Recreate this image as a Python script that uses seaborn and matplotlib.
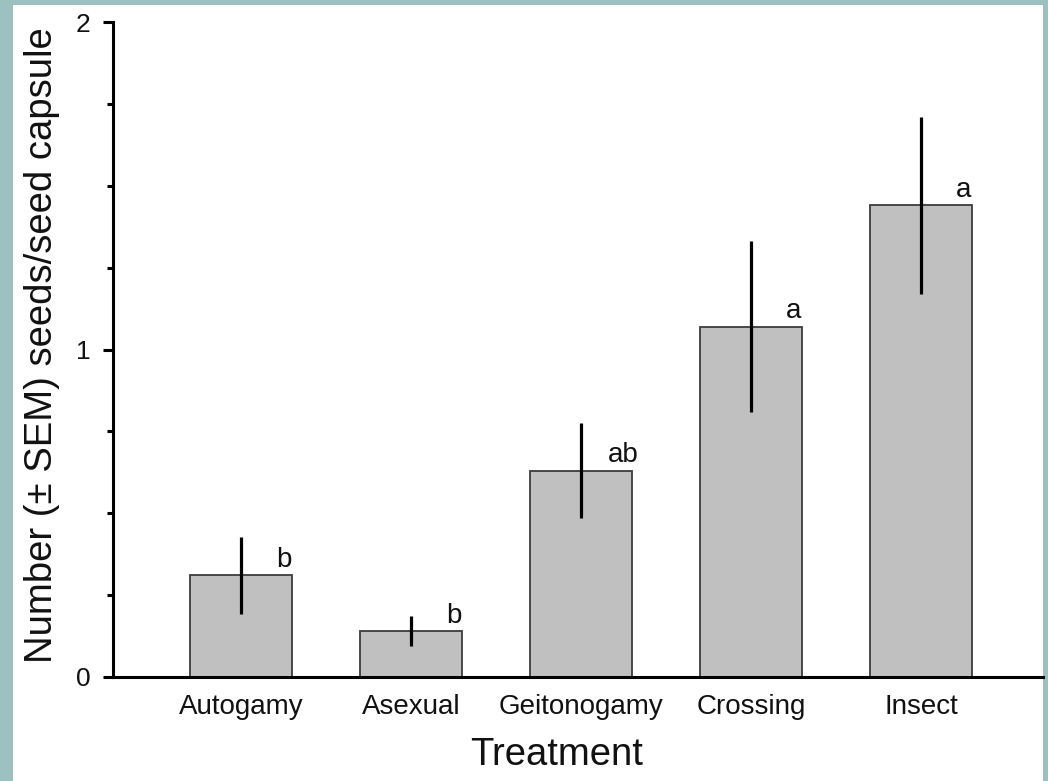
import numpy as np
import pandas as pd
import matplotlib
matplotlib.use("Agg")
import matplotlib.pyplot as plt
from matplotlib.patches import Rectangle
from matplotlib.ticker import MultipleLocator
import seaborn as sns

# Seed set per pollination treatment (mean ± SEM) with significance groups
treatments = ["Autogamy", "Asexual", "Geitonogamy", "Crossing", "Insect"]
mean_seeds = [0.31, 0.14, 0.63, 1.07, 1.44]
sem_seeds = [0.117, 0.046, 0.145, 0.262, 0.270]
group_letters = ["b", "b", "ab", "a", "a"]
y_ticks = [0, 1, 2]

sns.set_theme(style="white")
plt.rcParams["font.family"] = ["Liberation Sans", "DejaVu Sans"]
plt.rcParams["text.color"] = "#111111"
plt.rcParams["axes.labelcolor"] = "#111111"
plt.rcParams["xtick.color"] = "black"
plt.rcParams["ytick.color"] = "black"
plt.rcParams["xtick.labelcolor"] = "#111111"
plt.rcParams["ytick.labelcolor"] = "#111111"

W, H = 1048, 781
fig = plt.figure(figsize=(W / 100, H / 100), dpi=100, facecolor="#9dc1c0")
# white panel inside the coloured frame
fig.patches.append(Rectangle((13 / W, 0), (1043 - 13) / W, (H - 5) / H,
                             transform=fig.transFigure, facecolor="white",
                             edgecolor="none", zorder=-10))

ax = fig.add_axes([113 / W, 104 / H, 930 / W, 655 / H])
ax.set_zorder(1)
ax.set_facecolor("none")

df = pd.DataFrame({"Treatment": treatments, "Seeds": mean_seeds})
sns.barplot(data=df, x="Treatment", y="Seeds", order=treatments,
            color="#c0c0c0", saturation=1, width=0.6,
            edgecolor="#3c3c3c", linewidth=1.3, errorbar=None, ax=ax)

pos = np.arange(len(treatments))
ax.errorbar(pos, mean_seeds, yerr=sem_seeds, fmt="none", ecolor="black",
            elinewidth=2.3, capsize=0, zorder=3)

for x, m, lab in zip(pos, mean_seeds, group_letters):
    ax.annotate(lab, (x + 0.25, m), xytext=(0, 6), textcoords="offset points",
                ha="center", va="baseline", fontsize=20)

ax.set_xlim(-0.753, 4.718)
ax.set_ylim(0, 2)
ax.set_yticks(y_ticks, labels=[str(t) for t in y_ticks])
ax.yaxis.set_minor_locator(MultipleLocator(0.25))

for side in ("top", "right"):
    ax.spines[side].set_visible(False)
for side in ("left", "bottom"):
    ax.spines[side].set_color("black")
    ax.spines[side].set_linewidth(2.2)

ax.tick_params(axis="y", which="major", left=True, direction="out",
               length=7, width=2.2, labelsize=19, pad=9)
ax.tick_params(axis="y", which="minor", left=True, direction="out",
               length=4.5, width=2.2)
ax.tick_params(axis="x", which="both", length=0, labelsize=20, pad=12)

ax.set_xlabel("Treatment", fontsize=27.5)
ax.set_ylabel("Number (\u00b1 SEM) seeds/seed capsule", fontsize=27.5)
ax.xaxis.set_label_coords(0.477, -0.119)
ax.xaxis.label.set_va("center")
ax.yaxis.set_label_coords(-0.0763, 0.507)
ax.yaxis.label.set_va("center")

fig.savefig("out.png", dpi=100, facecolor=fig.get_facecolor())
